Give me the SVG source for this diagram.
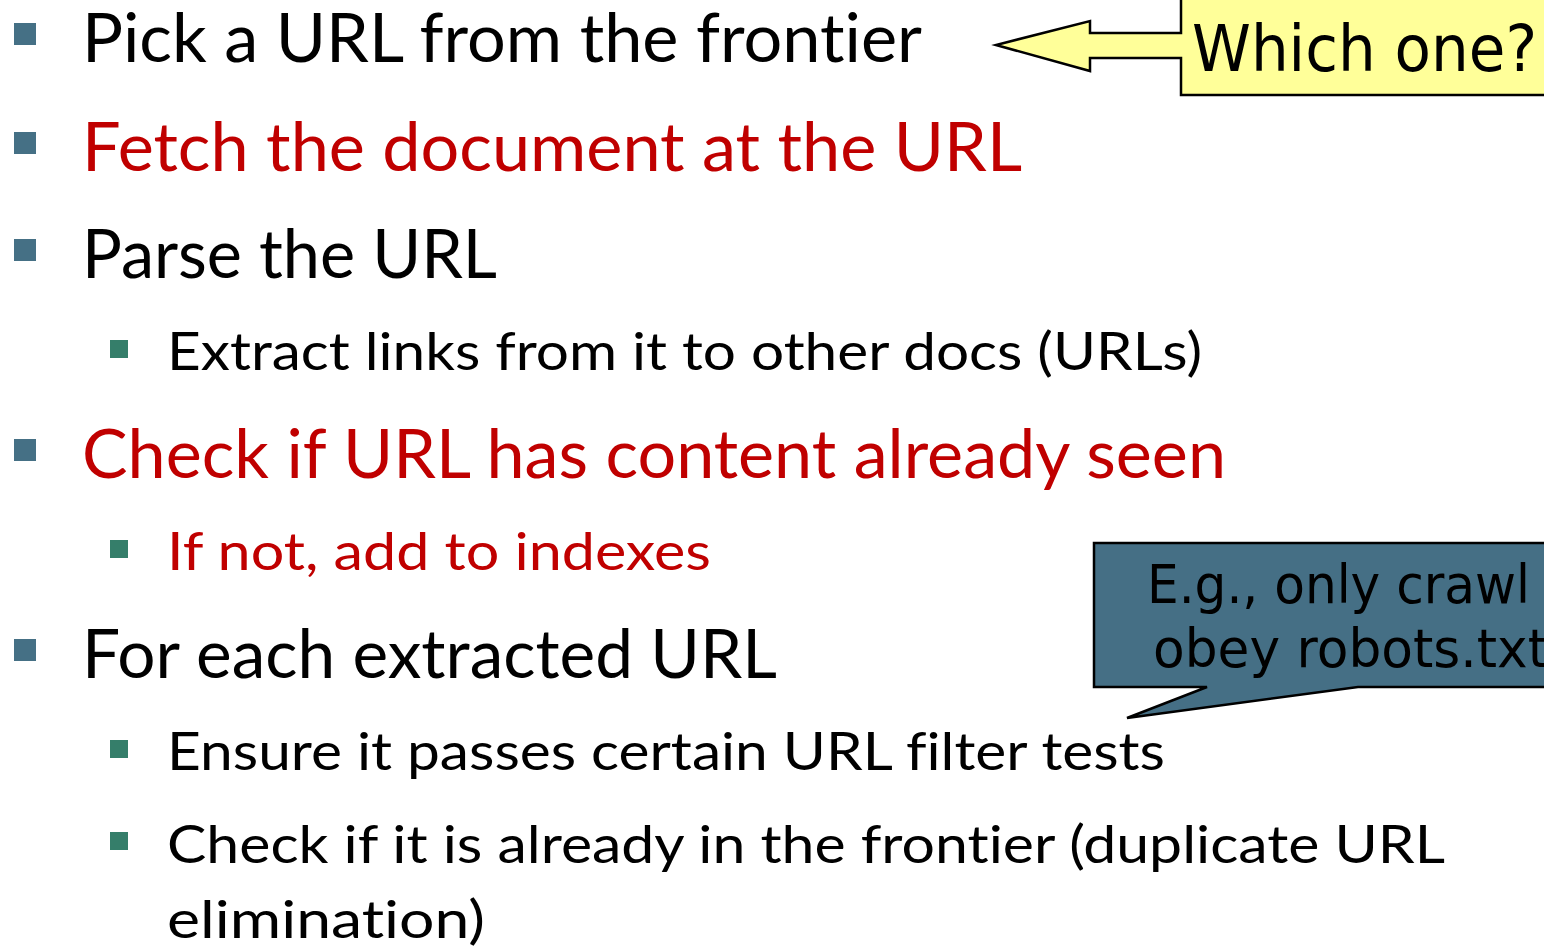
<svg xmlns="http://www.w3.org/2000/svg" width="1544" height="946" viewBox="0 0 1544 946">
<style>
.t{font-family:Lato,"Liberation Sans",sans-serif;font-variant-ligatures:none;font-feature-settings:"liga" 0,"clig" 0;}
.m{font-size:67px;}
.s{font-size:53px;}
.k{fill:#000;}
.r{fill:#C00000;}
.b1{fill:#457085;}
.b2{fill:#357E6A;}
.c{font-family:"DejaVu Sans",Verdana,sans-serif;fill:#000;}
</style>
<rect width="1544" height="946" fill="#fff"/>
<g id="bullets">
<rect class="b1" x="14" y="23" width="22" height="22"/>
<rect class="b1" x="14" y="132" width="22" height="22"/>
<rect class="b1" x="14" y="239" width="22" height="22"/>
<rect class="b2" x="110" y="340" width="18" height="18"/>
<rect class="b1" x="14" y="439" width="22" height="22"/>
<rect class="b2" x="110" y="540" width="18" height="18"/>
<rect class="b1" x="14" y="639" width="22" height="22"/>
<rect class="b2" x="110" y="740" width="18" height="18"/>
<rect class="b2" x="110" y="832" width="18" height="18"/>
</g>
<g id="text">
<text class="t m k" x="82" y="62" textLength="840" lengthAdjust="spacingAndGlyphs">Pick a URL from the frontier</text>
<text class="t m r" x="82" y="171" textLength="940" lengthAdjust="spacingAndGlyphs">Fetch the document at the URL</text>
<text class="t m k" x="82" y="278" textLength="415" lengthAdjust="spacingAndGlyphs">Parse the URL</text>
<text class="t s k" x="167" y="370" textLength="1035" lengthAdjust="spacingAndGlyphs">Extract links from it to other docs (URLs)</text>
<text class="t m r" x="82" y="478" textLength="1144" lengthAdjust="spacingAndGlyphs">Check if URL has content already seen</text>
<text class="t s r" x="167" y="570" textLength="544" lengthAdjust="spacingAndGlyphs">If not, add to indexes</text>
<text class="t m k" x="82" y="678" textLength="695" lengthAdjust="spacingAndGlyphs">For each extracted URL</text>
<text class="t s k" x="167" y="770" textLength="998" lengthAdjust="spacingAndGlyphs">Ensure it passes certain URL filter tests</text>
<text class="t s k" x="167" y="863" textLength="1278" lengthAdjust="spacingAndGlyphs">Check if it is already in the frontier (duplicate URL</text>
<text class="t s k" x="167" y="938" textLength="318" lengthAdjust="spacingAndGlyphs">elimination)</text>
</g>
<g id="callout-which">
<path d="M1181,33 L1090,33 L1090,21 L996,45 L1090,71 L1090,58 L1181,58 L1181,95 L1546,95 L1546,-2 L1181,-2 Z" fill="#FFFF99" stroke="#000" stroke-width="2.5" stroke-linejoin="miter"/>
<text class="c" x="1192" y="71" font-size="64" textLength="345" lengthAdjust="spacingAndGlyphs">Which one?</text>
</g>
<g id="callout-robots">
<path d="M1094,543 L1548,543 L1548,687 L1358,687 L1127,718 L1207,687 L1094,687 Z" fill="#456F85" stroke="#000" stroke-width="2.5"/>
<text class="c" x="1147" y="603" font-size="54" textLength="383" lengthAdjust="spacingAndGlyphs">E.g., only crawl</text>
<text class="c" x="1153" y="667" font-size="54" textLength="395" lengthAdjust="spacingAndGlyphs">obey robots.txt</text>
</g>
</svg>
